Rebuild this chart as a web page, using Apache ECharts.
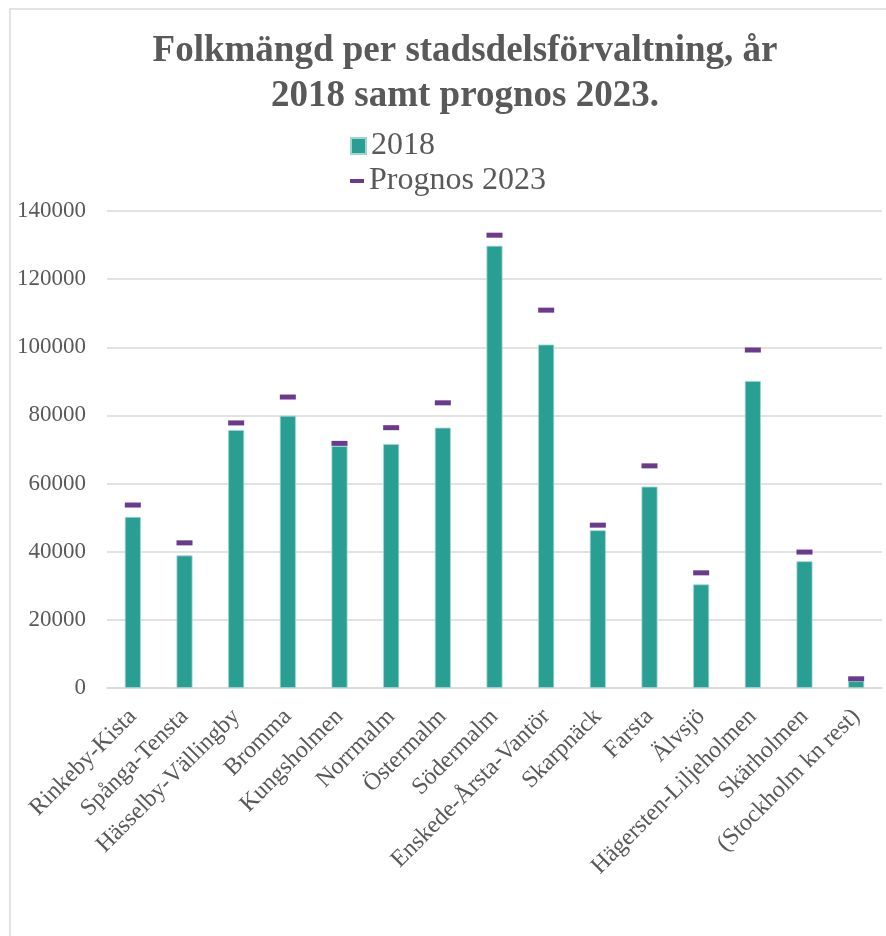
<!DOCTYPE html>
<html>
<head>
<meta charset="utf-8">
<script src="https://cdn.jsdelivr.net/npm/echarts@6/dist/echarts.min.js"></script>
<style>
  html, body { margin: 0; padding: 0; background: #fff; }
  #chart { width: 886px; height: 936px; }
</style>
</head>
<body>
<div id="chart"></div>
<script>
// stadsdelsförvaltningar
const categories = [
  "Rinkeby-Kista", "Spånga-Tensta", "Hässelby-Vällingby", "Bromma",
  "Kungsholmen", "Norrmalm", "Östermalm", "Södermalm",
  "Enskede-Årsta-Vantör", "Skarpnäck", "Farsta", "Älvsjö",
  "Hägersten-Liljeholmen", "Skärholmen", "(Stockholm kn rest)"
];
const values2018 = [
  50200, 38900, 75700, 79900, 71000, 71600, 76400, 129800,
  100800, 46300, 59100, 30400, 90100, 37200, 2000
];
const prognos2023 = [
  53700, 42600, 77800, 85400, 71800, 76400, 83700, 132900,
  110900, 47800, 65200, 33800, 99200, 39900, 2700
];
const yTicks = { min: 0, max: 140000, interval: 20000 };

const textColor = "#595959";
const serif = "'Liberation Serif', 'DejaVu Serif', serif";

const chart = echarts.init(document.getElementById("chart"));

const option = {
  animation: false,
  textStyle: { fontFamily: serif, color: textColor },
  graphic: [
    {
      // ram runt diagrammet
      type: "rect",
      shape: { x: 10, y: 9, width: 920, height: 960 },
      style: { fill: "none", stroke: "#d9d9d9", lineWidth: 1.5 },
      silent: true
    }
  ],
  title: {
    text: "Folkmängd per stadsdelsförvaltning, år\n2018 samt prognos 2023.",
    left: 460,
    top: 24,
    textAlign: "center",
    textStyle: {
      fontFamily: serif,
      fontWeight: "bold",
      fontSize: 37,
      lineHeight: 45,
      color: textColor
    }
  },
  legend: [
    {
      data: ["2018"],
      left: 345,
      top: 125,
      icon: "rect",
      itemWidth: 15,
      itemHeight: 16,
      textStyle: { fontFamily: serif, fontSize: 32, color: textColor }
    },
    {
      data: ["Prognos 2023"],
      left: 345,
      top: 160,
      icon: "rect",
      itemWidth: 14,
      itemHeight: 4,
      textStyle: { fontFamily: serif, fontSize: 32, color: textColor }
    }
  ],
  grid: {
    left: 107,
    right: 4,
    top: 211,
    bottom: 248,
    containLabel: false
  },
  xAxis: {
    type: "category",
    data: categories,
    axisLine: { lineStyle: { color: "#d9d9d9", width: 1.5 } },
    axisTick: { show: false },
    axisLabel: {
      interval: 0,
      rotate: 45,
      margin: 25,
      fontFamily: serif,
      fontSize: 24,
      color: textColor
    }
  },
  yAxis: {
    type: "value",
    min: yTicks.min,
    max: yTicks.max,
    interval: yTicks.interval,
    axisLine: { show: false },
    axisTick: { show: false },
    splitLine: { lineStyle: { color: "#d9d9d9", width: 1.5 } },
    axisLabel: {
      margin: 21,
      fontFamily: serif,
      fontSize: 23,
      color: textColor,
      formatter: v => String(v)
    }
  },
  series: [
    {
      name: "2018",
      type: "bar",
      data: values2018,
      barWidth: 16,
      itemStyle: { color: "#299e93", borderColor: "#9fd6d0", borderWidth: 0.8 }
    },
    {
      name: "Prognos 2023",
      type: "scatter",
      data: prognos2023,
      symbol: "rect",
      symbolSize: [16, 5],
      itemStyle: { color: "#6a3a8c", opacity: 1 },
      z: 3
    }
  ]
};

chart.setOption(option);
</script>
</body>
</html>
